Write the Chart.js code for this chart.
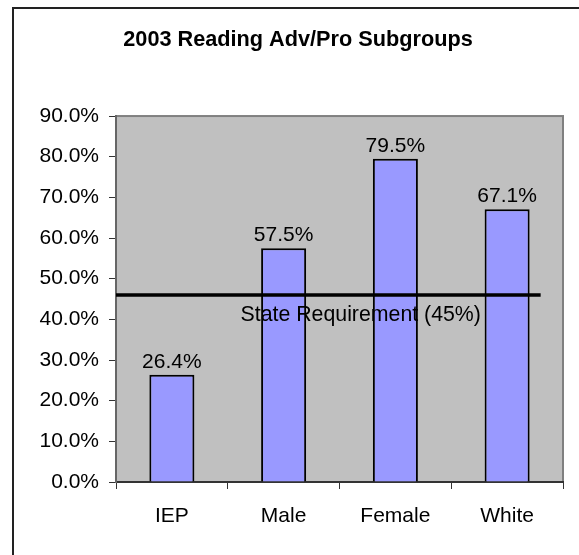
<!DOCTYPE html>
<html>
<head>
<meta charset="utf-8">
<script src="https://cdn.jsdelivr.net/npm/chart.js@4.4.1/dist/chart.umd.min.js"></script>
<style>
    body { margin: 0; background: #fff; }
    .wrap { position: relative; width: 579px; height: 555px; overflow: hidden; }
    .frame { position: absolute; left: 12px; top: 7px; width: 700px; height: 700px; border-left: 2px solid #222; border-top: 2px solid #222; }
    canvas { position: absolute; left: 0; top: 0; }
</style>
</head>
<body>
<div class="wrap">
    <div class="frame"></div>
    <canvas id="readingChart" width="579" height="555"></canvas>
</div>
<script>
// 2003 Reading Adv/Pro - subgroups
const categories = ['IEP', 'Male', 'Female', 'White'];
const advProPct = [26.4, 57.5, 79.5, 67.1];
const yTicks = [0, 10, 20, 30, 40, 50, 60, 70, 80, 90];
const stateLine = [46];
const stateLabel = ['State Requirement (45%)'];

const FONT = '"Liberation Sans", Arial, sans-serif';

const plotBg = {
    id: 'plotBg',
    beforeDraw(chart) {
        const { ctx, chartArea: a } = chart;
        ctx.save();
        ctx.fillStyle = '#C0C0C0';
        ctx.fillRect(a.left, a.top, a.right - a.left, a.bottom - a.top);
        ctx.strokeStyle = '#808080';
        ctx.lineWidth = 2;
        ctx.strokeRect(a.left, a.top, a.right - a.left, a.bottom - a.top);
        ctx.restore();
    }
};

const extras = {
    id: 'extras',
    afterDatasetsDraw(chart) {
        const { ctx, scales: { x, y } } = chart;
        ctx.save();
        // value labels
        ctx.fillStyle = '#000';
        ctx.font = '21px ' + FONT;
        ctx.textAlign = 'center';
        ctx.textBaseline = 'alphabetic';
        chart.getDatasetMeta(0).data.forEach((bar, i) => {
            ctx.fillText(advProPct[i].toFixed(1) + '%', bar.x, bar.y - 7);
        });
        // state requirement line
        const ly = y.getPixelForValue(stateLine[0]);
        ctx.strokeStyle = '#000';
        ctx.lineWidth = 3.5;
        ctx.beginPath();
        ctx.moveTo(x.getPixelForValue(-0.5), ly);
        ctx.lineTo(x.getPixelForValue(3.3), ly);
        ctx.stroke();
        ctx.textBaseline = 'middle';
        ctx.font = '21.3px ' + FONT;
        ctx.fillText(stateLabel[0], x.getPixelForValue(1.69), y.getPixelForValue(41.1));
        ctx.restore();
    }
};

new Chart(document.getElementById('readingChart'), {
    type: 'bar',
    data: {
        labels: categories,
        datasets: [{
            data: advProPct,
            backgroundColor: '#9999FF',
            borderColor: '#000',
            borderWidth: 2,
            categoryPercentage: 1,
            barPercentage: 0.403
        }]
    },
    options: {
        responsive: false,
        animation: false,
        layout: { padding: { left: 33, right: 16, top: 27, bottom: 0 } },
        plugins: {
            legend: { display: false },
            tooltip: { enabled: false },
            title: {
                display: true,
                text: '2003 Reading Adv/Pro Subgroups',
                color: '#000',
                font: { family: FONT, size: 21.7, weight: 'bold' },
                padding: { top: 0, bottom: 63 }
            }
        },
        scales: {
            x: {
                afterFit: s => { s.height = 73; },
                grid: { offset: true, drawOnChartArea: false, drawTicks: true, tickLength: 7, color: '#333', lineWidth: 1 },
                border: { display: true, color: '#333', width: 2 },
                ticks: { color: '#000', padding: 15, font: { family: FONT, size: 21 } }
            },
            y: {
                min: 0,
                max: 90,
                afterFit: s => { s.width = 83; },
                afterBuildTicks: s => { s.ticks = yTicks.map(v => ({ value: v })); },
                grid: { drawOnChartArea: false, drawTicks: true, tickLength: 7, color: '#333', lineWidth: 1 },
                border: { display: true, color: '#666', width: 2 },
                ticks: {
                    color: '#000',
                    padding: 10,
                    font: { family: FONT, size: 21 },
                    callback: v => v.toFixed(1) + '%'
                }
            }
        }
    },
    plugins: [plotBg, extras]
});
</script>
</body>
</html>
